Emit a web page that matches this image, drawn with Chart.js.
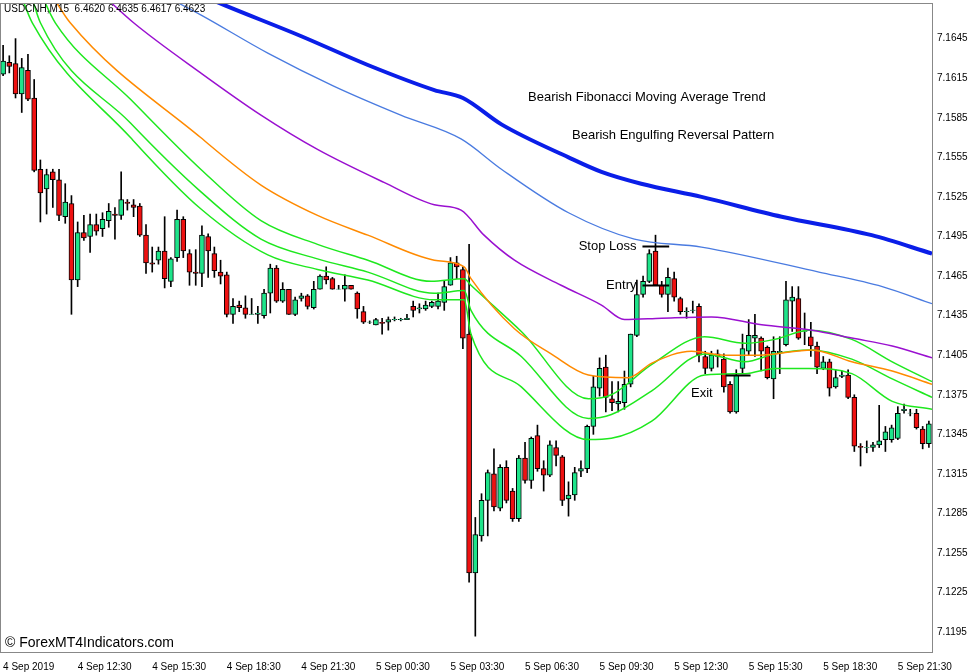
<!DOCTYPE html>
<html>
<head>
<meta charset="utf-8">
<script src="https://cdn.jsdelivr.net/npm/chart.js@4"></script>
<style>
  html, body { margin: 0; padding: 0; background: #fff; }
  #wrap { width: 977px; height: 672px; }
</style>
</head>
<body>
<div id="wrap"><canvas id="chart"></canvas></div>
<script>
// USDCNH M15 candles
const opens = [7.1618,7.1627,7.1626,7.1603,7.1621,7.1600,7.1546,7.1531,7.1544,7.1538,
  7.1510,7.1520,7.1462,7.1498,7.1495,7.1504,7.1501,7.1507,7.1512,7.1511,
  7.1521,7.1519,7.1518,7.1496,7.1475,7.1477,7.1484,7.1461,7.1479,7.1508,
  7.1482,7.1468,7.1467,7.1495,7.1482,7.1468,7.1466,7.1436,7.1443,7.1441,
  7.1436,7.1436,7.1435,7.1452,7.1471,7.1446,7.1455,7.1436,7.1448,7.1450,
  7.1441,7.1455,7.1465,7.1463,7.1455,7.1455,7.1458,7.1452,7.1438,7.1430,
  7.1428,7.1430,7.1430,7.1432,7.1432,7.1432,7.1442,7.1440,7.1440,7.1442,
  7.1442,7.1445,7.1458,7.1475,7.1470,7.1421,7.1240,7.1268,7.1295,7.1315,
  7.1289,7.1320,7.1302,7.1281,7.1327,7.1310,7.1344,7.1319,7.1314,7.1335,
  7.1328,7.1296,7.1299,7.1317,7.1319,7.1351,7.1380,7.1396,7.1372,7.1368,
  7.1369,7.1383,7.1420,7.1451,7.1461,7.1484,7.1458,7.1451,7.1463,7.1448,
  7.1438,7.1439,7.1442,7.1404,7.1395,7.1406,7.1402,7.1383,7.1362,7.1395,
  7.1408,7.1418,7.1418,7.1411,7.1387,7.1407,7.1413,7.1446,7.1448,7.1423,
  7.1419,7.1412,7.1395,7.1400,7.1381,7.1389,7.1390,7.1373,7.1336,7.1335,
  7.1335,7.1337,7.1341,7.1341,7.1342,7.1363,7.1361,7.1361,7.1349,7.1338];
const highs = [7.1640,7.1632,7.1645,7.1630,7.1633,7.1614,7.1553,7.1546,7.1546,7.1546,
  7.1535,7.1526,7.1506,7.1511,7.1512,7.1512,7.1513,7.1520,7.1517,7.1544,
  7.1523,7.1523,7.1520,7.1504,7.1487,7.1487,7.1510,7.1479,7.1515,7.1510,
  7.1485,7.1485,7.1503,7.1497,7.1487,7.1477,7.1468,7.1448,7.1446,7.1450,
  7.1448,7.1442,7.1455,7.1474,7.1473,7.1460,7.1455,7.1449,7.1452,7.1451,
  7.1461,7.1466,7.1472,7.1464,7.1458,7.1466,7.1458,7.1453,7.1442,7.1431,
  7.1433,7.1433,7.1434,7.1434,7.1433,7.1436,7.1446,7.1444,7.1446,7.1446,
  7.1452,7.1461,7.1479,7.1480,7.1472,7.1489,7.1282,7.1300,7.1318,7.1334,
  7.1322,7.1325,7.1304,7.1329,7.1339,7.1343,7.1352,7.1325,7.1340,7.1340,
  7.1329,7.1309,7.1320,7.1325,7.1352,7.1389,7.1403,7.1405,7.1385,7.1385,
  7.1393,7.1421,7.1462,7.1465,7.1485,7.1496,7.1461,7.1471,7.1468,7.1449,
  7.1441,7.1446,7.1444,7.1408,7.1408,7.1409,7.1406,7.1385,7.1394,7.1421,
  7.1432,7.1436,7.1419,7.1412,7.1419,7.1419,7.1461,7.1457,7.1457,7.1437,
  7.1430,7.1415,7.1404,7.1402,7.1394,7.1393,7.1394,7.1375,7.1338,7.1340,
  7.1339,7.1367,7.1351,7.1352,7.1366,7.1368,7.1364,7.1364,7.1351,7.1355];
const lows = [7.1617,7.1619,7.1600,7.1589,7.1598,7.1544,7.1506,7.1512,7.1517,7.1507,
  7.1505,7.1436,7.1457,7.1492,7.1483,7.1496,7.1495,7.1502,7.1493,7.1508,
  7.1515,7.1510,7.1495,7.1467,7.1468,7.1474,7.1456,7.1457,7.1476,7.1479,
  7.1458,7.1458,7.1457,7.1464,7.1464,7.1459,7.1434,7.1429,7.1438,7.1433,
  7.1436,7.1429,7.1433,7.1437,7.1445,7.1445,7.1436,7.1435,7.1446,7.1440,
  7.1440,7.1455,7.1459,7.1455,7.1455,7.1446,7.1455,7.1433,7.1429,7.1429,
  7.1428,7.1421,7.1424,7.1431,7.1431,7.1432,7.1434,7.1437,7.1439,7.1441,
  7.1440,7.1439,7.1458,7.1463,7.1410,7.1233,7.1192,7.1264,7.1268,7.1287,
  7.1287,7.1293,7.1279,7.1279,7.1308,7.1304,7.1317,7.1302,7.1313,7.1321,
  7.1291,7.1283,7.1295,7.1313,7.1316,7.1345,7.1374,7.1362,7.1363,7.1362,
  7.1364,7.1381,7.1419,7.1449,7.1460,7.1458,7.1449,7.1438,7.1446,7.1436,
  7.1433,7.1437,7.1400,7.1391,7.1393,7.1396,7.1377,7.1361,7.1361,7.1391,
  7.1405,7.1404,7.1393,7.1387,7.1372,7.1391,7.1412,7.1423,7.1417,7.1413,
  7.1404,7.1391,7.1394,7.1374,7.1380,7.1388,7.1372,7.1332,7.1321,7.1331,
  7.1332,7.1335,7.1332,7.1339,7.1341,7.1361,7.1359,7.1349,7.1334,7.1335];
const closes = [7.1628,7.1624,7.1603,7.1623,7.1599,7.1545,7.1528,7.1542,7.1538,7.1511,
  7.1521,7.1462,7.1498,7.1494,7.1504,7.1499,7.1508,7.1514,7.1511,7.1523,
  7.1520,7.1517,7.1496,7.1475,7.1474,7.1484,7.1463,7.1478,7.1508,7.1484,
  7.1468,7.1467,7.1496,7.1484,7.1469,7.1465,7.1436,7.1442,7.1441,7.1436,
  7.1436,7.1437,7.1452,7.1471,7.1446,7.1455,7.1436,7.1447,7.1450,7.1442,
  7.1455,7.1465,7.1462,7.1455,7.1455,7.1458,7.1455,7.1440,7.1430,7.1430,
  7.1432,7.1429,7.1432,7.1432,7.1432,7.1433,7.1439,7.1441,7.1443,7.1445,
  7.1446,7.1457,7.1475,7.1472,7.1418,7.1240,7.1269,7.1295,7.1316,7.1290,
  7.1320,7.1295,7.1281,7.1327,7.1310,7.1342,7.1319,7.1314,7.1337,7.1329,
  7.1295,7.1299,7.1316,7.1319,7.1351,7.1381,7.1395,7.1373,7.1369,7.1370,
  7.1383,7.1421,7.1451,7.1461,7.1482,7.1458,7.1451,7.1464,7.1449,7.1438,
  7.1438,7.1439,7.1405,7.1395,7.1405,7.1404,7.1381,7.1362,7.1390,7.1410,
  7.1420,7.1420,7.1408,7.1388,7.1408,7.1408,7.1447,7.1449,7.1418,7.1423,
  7.1412,7.1396,7.1400,7.1380,7.1388,7.1390,7.1373,7.1336,7.1335,7.1335,
  7.1337,7.1340,7.1347,7.1350,7.1361,7.1364,7.1361,7.1350,7.1338,7.1353];

// moving averages sampled along the lines: [candle index, price]
const maBlueThick = [[31.8,7.1678],[35.8,7.1670],[47.9,7.1647],[58.7,7.1625],[69.4,7.1606],[74.0,7.1600],
  [80.2,7.1580],[91.0,7.1555],[96.3,7.1544],[102.7,7.1535],[112.4,7.1525],[125.3,7.1510],[139.8,7.1496],[149.5,7.1482]];
const maBlueThin = [[23.7,7.1683],[31.8,7.1663],[42.6,7.1634],[53.2,7.1609],[64.0,7.1587],[73.7,7.1569],
  [80.2,7.1546],[91.0,7.1513],[101.6,7.1493],[112.4,7.1487],[131.3,7.1468],[141.5,7.1457],[149.5,7.1444]];
const maPurple = [[15.6,7.1680],[21.0,7.1657],[31.8,7.1619],[41.5,7.1587],[50.6,7.1561],[61.3,7.1536],
  [69.4,7.1519],[73.7,7.1515],[77.4,7.1496],[82.3,7.1477],[89.8,7.1458],[96.3,7.1443],[100,7.1432],
  [106,7.1433],[114,7.1434],[122.1,7.1428],[130.2,7.1424],[136.6,7.1418],[143.1,7.1412],[149.5,7.1403]];
const maOrange = [[7.6,7.1680],[10.8,7.1657],[31.8,7.1570],[41.5,7.1534],[50.6,7.1511],[58.7,7.1496],
  [69.4,7.1477],[74.2,7.1472],[75.3,7.1463],[82.3,7.1425],[88.2,7.1406],[94.2,7.1390],[100.6,7.1388],
  [104.4,7.1399],[110.8,7.1408],[116.1,7.1405],[121.6,7.1405],[130.2,7.1409],[136.6,7.1400],[143.1,7.1393],[149.5,7.1383]];
const maGreenA = [[6.0,7.1680],[8.4,7.1657],[20.5,7.1599],[31.8,7.1546],[41.5,7.1507],[50.6,7.1489],
  [58.7,7.1477],[68.9,7.1461],[74.2,7.1463],[75.3,7.1458],[83.4,7.1423],[94.2,7.1372],[97.9,7.1375],
  [104.4,7.1398],[112.9,7.1419],[119.4,7.1414],[124.2,7.1417],[129.7,7.1424],[136.6,7.1417],[143.1,7.1400],[149.5,7.1385]];
const maGreenB = [[4.4,7.1680],[6.0,7.1657],[20.5,7.1581],[31.8,7.1529],[41.5,7.1493],[50.6,7.1478],
  [58.7,7.1468],[69.4,7.1452],[74.2,7.1454],[75.3,7.1439],[83.4,7.1404],[94.2,7.1357],[97.9,7.1360],
  [104.4,7.1378],[112.9,7.1406],[119.4,7.1400],[124.2,7.1406],[129.7,7.1409],[136.6,7.1402],[143.1,7.1387],[149.5,7.1373]];
const maGreenC = [[2.7,7.1680],[4.7,7.1657],[20.5,7.1570],[31.8,7.1516],[42.6,7.1481],[50.6,7.1470],
  [58.7,7.1462],[69.4,7.1447],[74.2,7.1447],[75.3,7.1421],[83.4,7.1381],[94.2,7.1341],[97.9,7.1342],
  [104.4,7.1355],[112.9,7.1390],[119.4,7.1391],[124.2,7.1395],[129.7,7.1395],[136.6,7.1391],[143.1,7.1370],[149.5,7.1364]];

const priceTicks = [7.1195,7.1225,7.1255,7.1285,7.1315,7.1345,7.1375,7.1405,7.1435,7.1465,7.1495,7.1525,7.1555,7.1585,7.1615,7.1645];
const timeTickIdx = [0,12,24,36,48,60,72,84,96,108,120,132,144];
const timeLabels = ['4 Sep 2019','4 Sep 12:30','4 Sep 15:30','4 Sep 18:30','4 Sep 21:30','5 Sep 00:30',
  '5 Sep 03:30','5 Sep 06:30','5 Sep 09:30','5 Sep 12:30','5 Sep 15:30','5 Sep 18:30','5 Sep 21:30'];

// trade levels: [label, price, from index, to index]
const tradeLevels = [['Stop Loss',7.1488,102.9,107.2],['Entry',7.1458,102.9,107.2],['Exit',7.1390,116.3,120.3]];

const UP = '#1ee48a', DOWN = '#ee1111';
const candleColors = closes.map((c, i) => c >= opens[i] ? UP : DOWN);

function maSet(pts, color, width) {
  return {
    type: 'line',
    data: pts.map(p => ({ x: p[0], y: p[1] })),
    borderColor: color,
    borderWidth: width,
    pointRadius: 0,
    cubicInterpolationMode: 'monotone',
    fill: false
  };
}

const textPlugin = {
  id: 'texts',
  afterDraw(chart) {
    const ctx = chart.ctx, a = chart.chartArea;
    const xs = chart.scales.x, ys = chart.scales.y;
    ctx.save();
    ctx.strokeStyle = '#888';
    ctx.lineWidth = 1;
    ctx.strokeRect(a.left + 0.5, a.top + 0.5, a.right - a.left, a.bottom - a.top);
    ctx.fillStyle = '#000';
    ctx.font = '10px "Liberation Sans", Arial, sans-serif';
    ctx.textBaseline = 'middle';
    ctx.fillText('USDCNH,M15  6.4620 6.4635 6.4617 6.4623', 4, 9);
    ctx.font = '13px "Liberation Sans", Arial, sans-serif';
    ctx.fillText('Bearish Fibonacci Moving Average Trend', 528, 97);
    ctx.fillText('Bearish Engulfing Reversal Pattern', 572, 135);
    tradeLevels.forEach(t => {
      const y = Math.round(ys.getPixelForValue(t[1])) + 0.5;
      const x0 = xs.getPixelForValue(t[2]), x1 = xs.getPixelForValue(t[3]);
      ctx.strokeStyle = '#000';
      ctx.lineWidth = 2;
      ctx.beginPath(); ctx.moveTo(x0, y); ctx.lineTo(x1, y); ctx.stroke();
      ctx.textAlign = 'right';
      const ty = t[0] === 'Exit' ? y + 18 : y;
      const tx = t[0] === 'Exit' ? x0 - 13 : x0 - 6;
      ctx.fillText(t[0], tx, ty);
    });
    ctx.textAlign = 'left';
    ctx.font = '14px "Liberation Sans", Arial, sans-serif';
    ctx.fillText('\u00a9 ForexMT4Indicators.com', 5, 643);
    ctx.restore();
  }
};

new Chart(document.getElementById('chart'), {
  data: {
    datasets: [
      maSet(maBlueThick, '#0a1ee8', 4),
      maSet(maBlueThin, '#4a7be0', 1.3),
      maSet(maPurple, '#9a10d0', 1.5),
      maSet(maOrange, '#ff8a00', 1.5),
      maSet(maGreenA, '#1ee81e', 1.5),
      maSet(maGreenB, '#1ee81e', 1.5),
      maSet(maGreenC, '#1ee81e', 1.5),
      {
        type: 'bar',
        data: closes.map((c, i) => ({ x: i, y: [lows[i], highs[i]] })),
        backgroundColor: '#000',
        barThickness: 1,
        grouped: false,
        order: 1
      },
      {
        type: 'bar',
        data: closes.map((c, i) => ({ x: i, y: [opens[i], c === opens[i] ? c + 0.00002 : c] })),
        backgroundColor: candleColors,
        borderColor: '#000',
        borderWidth: 1,
        borderSkipped: false,
        barThickness: 5,
        grouped: false,
        order: 0
      }
    ]
  },
  options: {
    responsive: true,
    maintainAspectRatio: false,
    animation: false,
    layout: { padding: { top: -7, left: 0, right: 0, bottom: 0 } },
    plugins: { legend: { display: false }, tooltip: { enabled: false } },
    scales: {
      x: {
        type: 'linear',
        offset: false,
        min: -0.5,
        max: 149.5,
        grid: { display: false },
        border: { color: '#000' },
        afterBuildTicks: s => { s.ticks = timeTickIdx.map(v => ({ value: v })); },
        afterFit: s => { s.height = 20; },
        ticks: {
          autoSkip: false,
          maxRotation: 0,
          align: 'start',
          padding: 1,
          color: '#000',
          font: { family: '"Liberation Sans", Arial, sans-serif', size: 10 },
          callback: (v, i) => timeLabels[i]
        }
      },
      y: {
        position: 'right',
        min: 7.1180,
        max: 7.1672,
        grid: { display: false },
        border: { color: '#000' },
        afterBuildTicks: s => { s.ticks = priceTicks.map(v => ({ value: v })); },
        afterFit: s => { s.width = 45; },
        ticks: {
          padding: -3,
          color: '#000',
          font: { family: '"Liberation Sans", Arial, sans-serif', size: 10 },
          callback: v => v.toFixed(4)
        }
      }
    }
  },
  plugins: [textPlugin]
});
</script>
</body>
</html>
